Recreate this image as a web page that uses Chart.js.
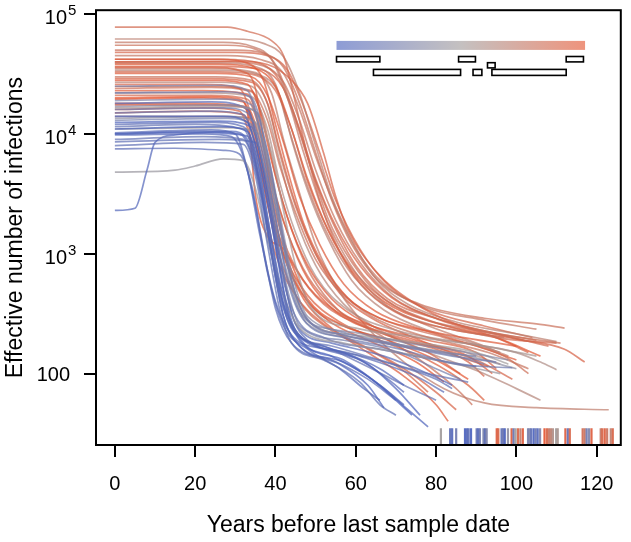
<!DOCTYPE html>
<html>
<head>
<meta charset="utf-8">
<script src="https://cdn.jsdelivr.net/npm/chart.js@4/dist/chart.umd.min.js"></script>
<style>
  html, body { margin: 0; padding: 0; background: #fff; }
  #grafico { display: block; }
</style>
</head>
<body>
<canvas id="grafico" width="631" height="542"></canvas>
<script>
// ========== DADOS ==========

const xTicks = [0, 20, 40, 60, 80, 100, 120];
const yTicks = [100, 1000, 10000, 100000];

// cor de cada curva (0 = azul, 1 = vermelho)
const shades = [
    0.05, 0.10, 0.02, 0.15, 0.00, 0.20, 0.08, 0.25, 0.12, 0.30,
    0.05, 0.45, 0.10, 0.18, 0.03, 0.22, 0.35, 0.07, 0.15, 0.28,
    0.40, 0.02, 0.12, 0.50, 0.55, 0.08,
    0.85, 0.75, 0.80, 0.95, 0.90, 0.92, 1.00, 0.85, 0.78, 0.97,
    0.70, 0.88, 0.93, 0.82, 0.98, 0.76, 0.90, 0.86, 0.95, 0.80,
    0.72, 0.65, 0.60, 0.99, 0.84, 0.90, 0.96, 0.68, 0.87, 0.62,
    0.74, 0.90, 0.95, 0.80, 0.88, 0.78
];

// curvas: [anos antes da última amostra, número efetivo de infecções]
const curves = [
    [[0,10000],[22,10500],[31,10000],[34,7000],[37,2500],[40,700],[43,280],[47,190],[57,150],[66,110],[72,80]],
    [[0,12000],[24,12500],[32,11500],[35,7000],[38,2000],[41,600],[44,260],[49,180],[61,140],[75,95],[82,70]],
    [[0,14000],[27,14000],[33,12500],[36,6000],[39,1800],[42,500],[45,230],[52,170],[63,120],[70,75],[76,45]],
    [[0,9000],[22,9500],[32,9000],[35,5000],[38,1500],[41,450],[45,220],[54,170],[66,130],[78,100],[88,85]],
    [[0,11000],[26,11500],[33,10500],[36,5000],[39,1300],[42,380],[46,190],[54,140],[63,95],[70,60],[74,45]],
    [[0,16000],[27,16500],[33,15000],[37,6500],[40,2000],[43,600],[47,280],[57,200],[71,160],[85,120],[99,112]],
    [[0,10200],[24,10800],[30,10000],[33,5000],[36,1500],[40,400],[44,210],[52,160],[61,130],[68,90],[72,70]],
    [[0,13000],[28,13500],[34,12000],[37,5500],[40,1600],[43,500],[46,250],[57,190],[71,150],[80,110],[86,90]],
    [[0,8000],[22,8500],[32,8200],[35,4500],[38,1200],[41,350],[44,180],[52,130],[61,85],[66,55],[70,45]],
    [[0,19000],[27,19500],[34,17500],[37,8000],[40,2500],[43,800],[47,320],[57,210],[71,170],[85,140],[92,120]],
    [[0,2300],[5,2400],[8,5000],[10,8500],[15,9800],[29,10500],[33,9000],[36,4000],[39,1000],[42,300],[46,170],[57,125],[66,80],[72,55]],
    [[0,4800],[15,5000],[20,5400],[27,6200],[32,6000],[35,3500],[38,1300],[42,450],[46,240],[57,180],[71,150],[85,120],[96,100]],
    [[0,7500],[15,7600],[27,7300],[31,6800],[34,3800],[37,1100],[40,350],[44,180],[54,130],[63,90],[70,60]],
    [[0,15000],[24,15500],[32,14500],[35,8000],[38,2800],[41,800],[45,300],[52,200],[66,160],[80,130],[90,115]],
    [[0,12500],[26,12800],[34,11500],[37,5000],[40,1300],[43,330],[47,180],[57,130],[66,80],[73,50],[78,36]],
    [[0,22000],[27,22500],[34,20000],[38,7000],[41,2000],[44,600],[48,280],[57,210],[71,170],[84,140],[95,125]],
    [[0,17000],[27,17500],[35,15500],[38,7000],[41,2200],[44,700],[48,300],[60,220],[73,180],[88,150],[98,130]],
    [[0,9800],[22,10000],[29,9500],[32,6500],[35,2500],[38,700],[42,250],[48,160],[56,110],[62,75],[66,60]],
    [[0,11500],[20,12000],[32,11000],[35,6000],[38,1800],[41,500],[45,230],[54,160],[64,110],[72,80],[80,60]],
    [[0,25000],[26,25500],[33,23000],[36,11000],[39,3000],[42,900],[46,330],[55,230],[69,180],[82,150],[90,140]],
    [[0,13500],[28,14000],[35,12500],[38,6000],[41,1800],[44,550],[48,260],[60,200],[73,170],[88,140],[100,110]],
    [[0,10000],[20,10300],[33,9600],[36,4200],[39,1000],[42,300],[46,170],[56,120],[63,80],[67,52]],
    [[0,8600],[26,9000],[35,8500],[38,3800],[41,1000],[44,320],[48,190],[58,150],[69,120],[80,90],[84,75]],
    [[0,11000],[27,11300],[36,10000],[39,4500],[42,1300],[45,450],[49,260],[60,210],[76,180],[90,150],[98,120]],
    [[0,16500],[28,17000],[35,15500],[39,7000],[42,2300],[45,800],[49,350],[60,240],[76,200],[92,170],[105,140]],
    [[0,18000],[24,18500],[33,16000],[36,7500],[39,2200],[42,650],[45,260],[54,180],[67,140],[78,100],[84,80]],
    [[0,78000],[28,78000],[33,72000],[39,60000],[42,45000],[45,18000],[48,6500],[52,2200],[57,900],[63,480],[72,300],[85,230],[100,195],[108,170]],
    [[0,58000],[27,58000],[34,54000],[39,42000],[43,20000],[47,7000],[52,2200],[57,1000],[63,520],[70,330],[80,250],[90,215],[97,200]],
    [[0,55000],[28,55000],[35,51000],[40,38000],[44,17000],[48,6500],[53,2000],[59,850],[66,450],[75,300],[90,230],[111,180]],
    [[0,42000],[26,42000],[33,39000],[37,28000],[40,12000],[43,5000],[47,1800],[52,800],[58,430],[66,290],[80,220],[100,170]],
    [[0,40000],[30,40500],[38,38000],[44,28000],[48,18000],[52,6900],[55,3000],[58,1600],[65,715],[74,400],[85,260],[100,195],[112,160],[117,125]],
    [[0,36000],[24,36000],[32,33000],[35,24000],[37,9000],[39,3200],[42,1300],[47,600],[54,350],[64,250],[78,190],[90,150],[95,110]],
    [[0,20000],[24,20500],[31,19500],[33,15000],[35,3100],[38,1400],[42,1100],[48,420],[56,260],[68,190],[80,130],[88,90]],
    [[0,33000],[26,33000],[35,31000],[40,23000],[44,11000],[48,4000],[53,1600],[59,750],[67,420],[78,280],[95,200],[110,180]],
    [[0,30000],[25,30000],[34,28000],[38,18000],[41,7000],[45,2500],[50,1000],[56,500],[64,300],[76,210],[93,150],[103,110]],
    [[0,28000],[25,28000],[33,26000],[36,16000],[39,6000],[43,2000],[48,800],[54,420],[62,270],[75,190],[88,140],[94,100]],
    [[0,62000],[30,62000],[37,57000],[42,44000],[46,22000],[50,8000],[54,3000],[59,1300],[65,620],[73,380],[85,270],[100,215],[110,185]],
    [[0,26000],[22,26000],[31,24000],[34,14000],[37,4500],[40,1700],[45,750],[52,380],[62,250],[76,180],[90,130],[99,90]],
    [[0,18000],[20,18000],[32,17000],[35,9000],[38,2600],[42,1000],[48,450],[56,270],[66,190],[78,130],[88,80],[92,60]],
    [[0,24000],[24,24500],[34,22500],[38,13000],[41,5500],[45,2200],[50,900],[57,450],[66,290],[82,200],[97,140],[103,100]],
    [[0,38000],[26,38000],[35,35000],[40,25000],[44,11000],[48,4200],[53,1600],[59,720],[67,400],[79,270],[95,200],[106,140]],
    [[0,45000],[28,45000],[36,42000],[42,32000],[46,16000],[50,6500],[55,2400],[60,1100],[67,560],[77,360],[92,280],[105,235]],
    [[0,16000],[22,16500],[31,15500],[34,8500],[37,2600],[40,1000],[45,450],[52,260],[62,170],[72,110],[80,70],[85,50]],
    [[0,21000],[24,21000],[33,19500],[36,11000],[39,4000],[43,1500],[48,650],[55,350],[65,230],[78,150],[86,100]],
    [[0,32000],[25,32000],[34,30000],[38,21000],[42,8500],[46,3000],[51,1200],[57,560],[65,330],[77,230],[90,170],[100,130]],
    [[0,50000],[30,50000],[37,47000],[42,36000],[46,18000],[50,7000],[54,2800],[59,1200],[66,580],[76,380],[92,290],[105,260],[112,240]],
    [[0,35000],[26,35000],[35,32500],[39,22000],[42,9000],[46,3200],[50,1200],[56,480],[63,240],[72,125],[82,75],[92,57],[105,52],[123,50]],
    [[0,27000],[25,27000],[34,25000],[38,15000],[41,6000],[45,2000],[50,800],[57,380],[66,230],[78,150],[92,100],[100,75],[106,60]],
    [[0,22000],[24,22000],[34,20500],[38,11000],[41,4000],[45,1500],[50,650],[58,340],[70,230],[85,185],[100,150],[106,125],[110,108]],
    [[0,19500],[22,20000],[32,18500],[35,10000],[38,3200],[41,1200],[46,500],[53,280],[63,190],[75,125],[82,85]],
    [[0,42000],[27,42000],[36,39000],[41,28000],[45,13000],[49,5000],[54,1900],[60,800],[68,420],[80,290],[94,220],[105,190]],
    [[0,29000],[24,29000],[34,27000],[38,18000],[41,7500],[45,2600],[50,1000],[56,470],[64,290],[76,190],[88,125],[92,95]],
    [[0,23000],[22,23000],[33,21500],[36,12000],[39,4200],[43,1500],[48,620],[55,330],[66,220],[80,160],[93,115]],
    [[0,34000],[26,34000],[36,31000],[41,21000],[44,9000],[48,3400],[53,1350],[59,600],[67,340],[78,230],[88,185],[96,150]],
    [[0,15000],[20,15500],[32,14500],[35,8000],[38,2600],[41,950],[46,400],[53,240],[63,160],[72,105],[78,70]],
    [[0,14000],[24,14000],[34,13500],[37,7500],[40,2500],[43,900],[48,400],[57,250],[70,190],[86,155],[96,120]],
    [[0,39000],[26,39000],[35,36500],[40,26000],[43,12000],[47,4500],[52,1700],[58,750],[66,400],[77,260],[90,180],[98,140]],
    [[0,36500],[28,36500],[37,34000],[42,24000],[46,11000],[50,4200],[55,1700],[61,800],[69,430],[81,280],[95,200],[103,150]],
    [[0,17500],[22,17500],[33,16500],[36,9000],[39,2800],[42,1000],[47,420],[54,240],[63,150],[72,95],[80,55],[83,40]],
    [[0,25000],[24,25000],[34,23000],[37,13000],[40,4500],[44,1600],[49,650],[56,330],[66,210],[76,130],[85,75],[89,55]],
    [[0,48000],[30,48000],[38,45000],[43,34000],[47,17000],[51,7000],[55,2800],[61,1100],[68,550],[78,340],[92,250],[104,200]],
    [[0,40000],[28,40000],[37,37000],[42,27000],[46,13000],[50,5000],[55,1900],[61,850],[69,440],[80,290],[94,220],[102,190]]
];

// datas das amostras (marcas no eixo x)
const sampleYears = [
    81.2, 83.5, 84.0, 85.0, 87.2, 87.7, 88.1, 88.7, 90.1, 90.5, 90.9, 91.8, 92.2, 92.6,
    95.1, 95.5, 96.3, 96.7, 97.1, 97.9, 98.8, 99.3, 99.8, 100.4, 101.0, 101.6,
    102.9, 103.3, 103.7, 104.3, 104.8, 105.3, 105.9, 107.0, 107.6, 108.1, 108.6, 109.1,
    109.9, 110.3, 112.2, 112.8, 113.3, 116.5, 117.0, 117.5, 118.1, 118.7,
    121.0, 121.4, 122.0, 122.6, 123.5, 124.0
];
const sampleShades = [
    0.50, 0.10, 0.05, 0.20, 0.00, 0.05, 0.10, 0.00, 0.15, 0.05, 0.20, 0.25, 0.10, 0.30,
    0.95, 0.90, 0.10, 0.20, 0.00, 0.40, 0.95, 0.15, 0.50, 0.90, 0.70, 0.95,
    0.25, 0.30, 0.10, 0.00, 0.20, 0.05, 0.30, 1.00, 0.90, 0.75, 0.70, 0.60,
    0.50, 0.55, 0.95, 0.10, 0.90, 0.85, 0.80, 0.20, 0.30, 0.95,
    0.75, 0.90, 0.95, 0.80, 0.70, 0.90
];
const sampleRugLevel = 30.1;

// legenda: barra de cores e intervalos (em anos)
const colourBarRange = [55.2, 117.1];
const boxesRow1 = [[55.2, 66.0], [85.6, 89.8], [112.4, 116.7]];
const boxesMid = [[92.8, 94.7]];
const boxesRow2 = [[64.4, 86.1], [89.2, 91.4], [93.9, 112.4]];

// ========== CORES ==========

const stops = [[72, 95, 188], [160, 154, 154], [228, 82, 45]];
function shadeColour(t, alpha) {
    let a, b, f;
    if (t <= 0.5) { a = stops[0]; b = stops[1]; f = t / 0.5; }
    else { a = stops[1]; b = stops[2]; f = (t - 0.5) / 0.5; }
    const c = a.map((v, i) => Math.round(v + (b[i] - v) * f));
    return `rgba(${c[0]},${c[1]},${c[2]},${alpha})`;
}

// ========== GRÁFICO ==========

const datasets = curves.map((pts, i) => ({
    type: 'line',
    data: pts.map(p => ({ x: p[0], y: p[1] })),
    borderColor: shadeColour(shades[i], 0.7),
    borderWidth: 1.7,
    pointRadius: 0,
    cubicInterpolationMode: 'monotone',
    fill: false
}));

datasets.unshift({
    type: 'scatter',
    data: sampleYears.map(x => ({ x: x, y: sampleRugLevel })),
    pointStyle: 'line',
    rotation: 90,
    pointRadius: 8,
    borderWidth: 2.2,
    borderColor: sampleShades.map(t => shadeColour(t, 0.9)),
    backgroundColor: 'transparent'
});

const familia = '"Liberation Sans", Arial, sans-serif';

const moldura = {
    id: 'moldura',
    afterDatasetsDraw(chart) {
        const { ctx, chartArea: a, scales: { x, y } } = chart;
        ctx.save();
        // barra de cores
        const x0 = x.getPixelForValue(colourBarRange[0]);
        const x1 = x.getPixelForValue(colourBarRange[1]);
        const grad = ctx.createLinearGradient(x0, 0, x1, 0);
        grad.addColorStop(0, shadeColour(0, 0.62));
        grad.addColorStop(0.5, shadeColour(0.5, 0.62));
        grad.addColorStop(1, shadeColour(1, 0.62));
        ctx.fillStyle = grad;
        ctx.fillRect(x0, a.top + 30.7, x1 - x0, 9);
        // caixas
        ctx.strokeStyle = '#000';
        ctx.lineWidth = 1.6;
        const caixas = (lista, yy, h) => lista.forEach(r => {
            const p0 = x.getPixelForValue(r[0]), p1 = x.getPixelForValue(r[1]);
            ctx.strokeRect(p0, a.top + yy, p1 - p0, h);
        });
        caixas(boxesRow1, 46.3, 5.4);
        caixas(boxesMid, 52.5, 5.2);
        caixas(boxesRow2, 59.2, 6);
        // moldura
        ctx.lineWidth = 2;
        ctx.strokeRect(a.left, a.top, a.right - a.left, a.bottom - a.top);
        // rótulos do eixo y (potências de 10)
        ctx.fillStyle = '#000';
        const xr = y.left + y.width - 26;
        yTicks.forEach(v => {
            const py = y.getPixelForValue(v);
            const n = Math.round(Math.log10(v));
            ctx.font = `20px ${familia}`;
            ctx.textAlign = 'right';
            ctx.textBaseline = 'alphabetic';
            if (n <= 2) {
                ctx.fillText(String(v), xr, py + 7.5);
            } else {
                ctx.fillText('10', xr - 3, py + 10);
                ctx.font = `15px ${familia}`;
                ctx.textAlign = 'left';
                ctx.fillText(String(n), xr - 2, py + 1);
            }
        });
        ctx.restore();
    }
};

new Chart(document.getElementById('grafico'), {
    data: { datasets },
    options: {
        responsive: false,
        animation: false,
        devicePixelRatio: 1,
        layout: { padding: { top: 7, right: 6, left: 0, bottom: 0 } },
        plugins: { legend: { display: false }, tooltip: { enabled: false } },
        scales: {
            x: {
                type: 'linear',
                min: -4.7,
                max: 126,
                afterBuildTicks: s => { s.ticks = xTicks.map(v => ({ value: v })); },
                afterFit: s => { s.height = 97; s.paddingLeft = 0; s.paddingRight = 0; },
                ticks: { color: '#000', font: { family: familia, size: 20 }, padding: 15, maxRotation: 0 },
                grid: { drawOnChartArea: false, color: '#000', lineWidth: 2, tickLength: 12 },
                border: { display: false },
                title: {
                    display: true,
                    text: 'Years before last sample date',
                    color: '#000',
                    font: { family: familia, size: 23 },
                    padding: { top: 0, bottom: 3 }
                }
            },
            y: {
                type: 'logarithmic',
                min: 25.4,
                max: 107800,
                afterBuildTicks: s => { s.ticks = yTicks.map(v => ({ value: v })); },
                afterFit: s => { s.width = 96; s.paddingTop = 0; s.paddingBottom = 0; },
                ticks: { display: false },
                grid: { drawOnChartArea: false, color: '#000', lineWidth: 2, tickLength: 12 },
                border: { display: false },
                title: {
                    display: true,
                    text: 'Effective number of infections',
                    color: '#000',
                    font: { family: familia, size: 23 },
                    padding: { top: 2, bottom: 0 }
                }
            }
        }
    },
    plugins: [moldura]
});
</script>
</body>
</html>
